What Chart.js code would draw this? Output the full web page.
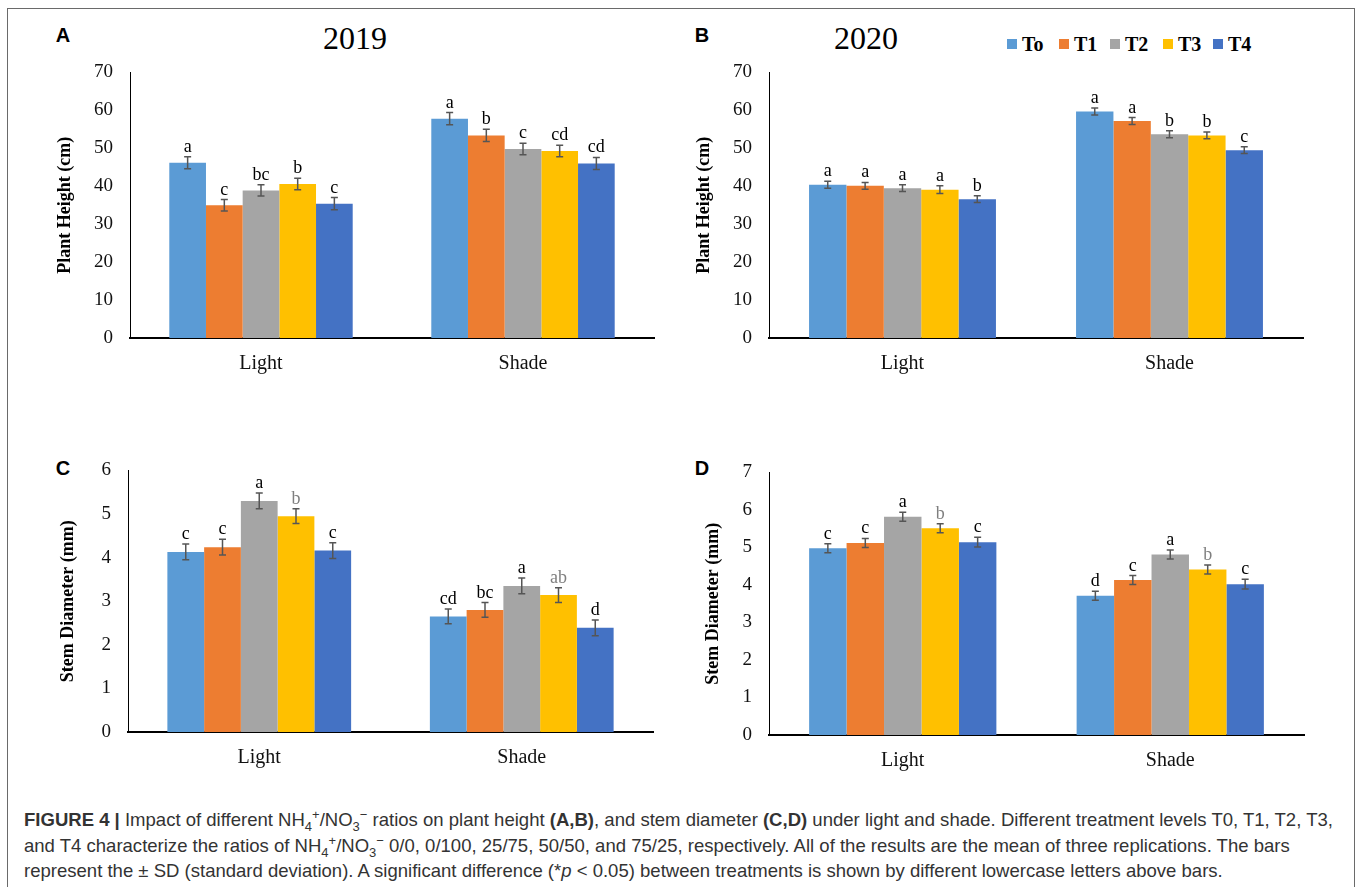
<!DOCTYPE html>
<html>
<head>
<meta charset="utf-8">
<script src="https://cdn.jsdelivr.net/npm/chart.js@4.4.1/dist/chart.umd.min.js"></script>
<style>
    body { margin: 0; background: #fff; width: 1357px; height: 887px; overflow: hidden; position: relative; font-family: 'Liberation Serif', serif; }
    .frame { position: absolute; left: 7px; top: 8px; width: 1348px; height: 900px; border: 1.5px solid #6a6a6a; box-sizing: border-box; }
    canvas { position: absolute; }
    .panel { position: absolute; font-family: 'Liberation Sans', Arial, sans-serif; font-weight: bold; font-size: 20px; transform: translate(-50%, -50%); color: #000; }
    .year { position: absolute; font: 32px 'Liberation Serif', serif; transform: translate(-50%, -50%); color: #000; }
    .legend-item { position: absolute; top: 32px; height: 24px; display: flex; align-items: center; font: bold 20px 'Liberation Serif', serif; color: #000; }
    .legend-item i { display: inline-block; width: 10px; height: 10px; margin-right: 5px; }
    .caption { position: absolute; left: 24px; top: 807px; font-family: 'Liberation Sans', Arial, sans-serif; font-size: 15.5px; line-height: 25.5px; color: #333; }
    .caption span.line { display: block; white-space: nowrap; }
    .caption sub, .caption sup { font-size: 0.7em; line-height: 0; }
</style>
</head>
<body>
<div class="frame"></div>

<div class="panel" style="left:63px;top:35px">A</div>
<div class="panel" style="left:702px;top:35px">B</div>
<div class="panel" style="left:63px;top:468px">C</div>
<div class="panel" style="left:702px;top:468px">D</div>

<div class="year" style="left:355px;top:38px">2019</div>
<div class="year" style="left:866px;top:38px">2020</div>

<div id="legend"></div>

<canvas id="chartA" width="609" height="339" style="left:55px;top:44px"></canvas>
<canvas id="chartB" width="619" height="339" style="left:694px;top:44px"></canvas>
<canvas id="chartC" width="605" height="335" style="left:58px;top:442px"></canvas>
<canvas id="chartD" width="611" height="336" style="left:703px;top:444px"></canvas>

<div class="caption" id="caption">
    <span class="line"><b>FIGURE 4 |</b> Impact of different NH<sub>4</sub><sup>+</sup>/NO<sub>3</sub><sup>−</sup> ratios on plant height <b>(A,B)</b>, and stem diameter <b>(C,D)</b> under light and shade. Different treatment levels T0, T1, T2, T3,</span>
    <span class="line">and T4 characterize the ratios of NH<sub>4</sub><sup>+</sup>/NO<sub>3</sub><sup>−</sup> 0/0, 0/100, 25/75, 50/50, and 75/25, respectively. All of the results are the mean of three replications. The bars</span>
    <span class="line">represent the ± SD (standard deviation). A significant difference (*<i>p</i> &lt; 0.05) between treatments is shown by different lowercase letters above bars.</span>
</div>

<script>
// categorias e tratamentos
const categories = ['Light', 'Shade'];
const treatments = ['To', 'T1', 'T2', 'T3', 'T4'];
const colors = ['#5B9BD5', '#ED7D31', '#A5A5A5', '#FFC000', '#4472C4'];

// A - altura 2019 (cm), um valor por tratamento
const heightLight2019 = [46.2, 35.0, 38.9, 40.6, 35.4];
const heightShade2019 = [57.8, 53.4, 49.8, 49.3, 46.0];
const heightLightErr2019 = [1.6, 1.5, 1.5, 1.5, 1.6];
const heightShadeErr2019 = [1.6, 1.6, 1.5, 1.5, 1.6];
const heightLightLetters2019 = ['a', 'c', 'bc', 'b', 'c'];
const heightShadeLetters2019 = ['a', 'b', 'c', 'cd', 'cd'];

// B - altura 2020 (cm)
const heightLight2020 = [40.4, 40.1, 39.5, 39.1, 36.6];
const heightShade2020 = [59.7, 57.2, 53.7, 53.4, 49.5];
const heightLightErr2020 = [0.9, 0.9, 0.9, 1.0, 0.9];
const heightShadeErr2020 = [0.9, 0.9, 0.9, 0.9, 0.9];
const heightLightLetters2020 = ['a', 'a', 'a', 'a', 'b'];
const heightShadeLetters2020 = ['a', 'a', 'b', 'b', 'c'];

// C - diametro 2019 (mm)
const stemLight2019 = [4.13, 4.24, 5.30, 4.95, 4.16];
const stemShade2019 = [2.65, 2.80, 3.35, 3.14, 2.39];
const stemLightErr2019 = [0.18, 0.18, 0.18, 0.17, 0.18];
const stemShadeErr2019 = [0.17, 0.17, 0.18, 0.17, 0.18];
const stemLightLetters2019 = ['c', 'c', 'a', 'b', 'c'];
const stemShadeLetters2019 = ['cd', 'bc', 'a', 'ab', 'd'];

// D - diametro 2020 (mm)
const stemLight2020 = [4.98, 5.12, 5.82, 5.51, 5.14];
const stemShade2020 = [3.71, 4.13, 4.81, 4.41, 4.02];
const stemLightErr2020 = [0.12, 0.12, 0.12, 0.12, 0.13];
const stemShadeErr2020 = [0.12, 0.12, 0.12, 0.12, 0.13];
const stemLightLetters2020 = ['c', 'c', 'a', 'b', 'c'];
const stemShadeLetters2020 = ['d', 'c', 'a', 'b', 'c'];

// letras em cinza no original (so o T3 nos paineis C e D)
const grayLettersC = [false, false, false, true, false];
const grayLettersD = [false, false, false, true, false];
const noGray = [false, false, false, false, false];

// barras de erro + letras de significancia
const errorBarsPlugin = {
    id: 'errorBars',
    afterDatasetsDraw(chart) {
        const ctx = chart.ctx;
        const yScale = chart.scales.y;
        ctx.save();
        chart.data.datasets.forEach((ds, i) => {
            const meta = chart.getDatasetMeta(i);
            meta.data.forEach((bar, j) => {
                const v = ds.data[j];
                const e = ds.errors[j];
                const x = bar.x;
                const top = yScale.getPixelForValue(v + e);
                const bottom = yScale.getPixelForValue(v - e);
                ctx.strokeStyle = '#555';
                ctx.lineWidth = 1.5;
                ctx.beginPath();
                ctx.moveTo(x, top); ctx.lineTo(x, bottom);
                ctx.moveTo(x - 3.5, top); ctx.lineTo(x + 3.5, top);
                ctx.moveTo(x - 3.5, bottom); ctx.lineTo(x + 3.5, bottom);
                ctx.stroke();

                ctx.fillStyle = ds.grayLetters[j] ? '#7f7f7f' : '#000';
                ctx.font = "18px 'Liberation Serif'";
                ctx.textAlign = 'center';
                ctx.textBaseline = 'alphabetic';
                ctx.fillText(ds.letters[j], x, top - 5);
            });
        });
        ctx.restore();
    }
};

function makeChart(id, light, shade, errLight, errShade, lettersLight, lettersShade, grayLight, grayShade, yMax, yTitle, yWidth) {
    const datasets = treatments.map((t, i) => ({
        label: t,
        data: [light[i], shade[i]],
        errors: [errLight[i], errShade[i]],
        letters: [lettersLight[i], lettersShade[i]],
        grayLetters: [grayLight[i], grayShade[i]],
        backgroundColor: colors[i],
        borderWidth: 0,
        categoryPercentage: 0.7,
        barPercentage: 1.0
    }));

    return new Chart(document.getElementById(id), {
        type: 'bar',
        data: { labels: categories, datasets: datasets },
        plugins: [errorBarsPlugin],
        options: {
            responsive: false,
            animation: false,
            layout: { padding: { top: 0, right: 10, left: 0, bottom: 0 } },
            plugins: { legend: { display: false }, tooltip: { enabled: false } },
            scales: {
                x: {
                    grid: { display: false, drawTicks: false },
                    border: { display: true, color: '#000', width: 2 },
                    ticks: { color: '#111', font: { family: 'Liberation Serif', size: 20 }, padding: 14 },
                    afterFit(scale) { scale.height = 45; }
                },
                y: {
                    min: 0,
                    max: yMax,
                    grid: { display: false, drawTicks: false },
                    border: { display: true, color: '#000', width: 1 },
                    ticks: { stepSize: yMax > 10 ? 10 : 1, color: '#111', font: { family: 'Liberation Serif', size: 19 }, padding: 17 },
                    title: {
                        display: true,
                        text: yTitle,
                        color: '#000',
                        font: { family: 'Liberation Serif', size: 18, weight: 'bold' },
                        padding: { top: 0, bottom: 0 }
                    },
                    afterFit(scale) { scale.width = yWidth; }
                }
            }
        }
    });
}

makeChart('chartA', heightLight2019, heightShade2019, heightLightErr2019, heightShadeErr2019,
    heightLightLetters2019, heightShadeLetters2019, noGray, noGray, 70, 'Plant Height (cm)', 75);
makeChart('chartB', heightLight2020, heightShade2020, heightLightErr2020, heightShadeErr2020,
    heightLightLetters2020, heightShadeLetters2020, noGray, noGray, 70, 'Plant Height (cm)', 75);
makeChart('chartC', stemLight2019, stemShade2019, stemLightErr2019, stemShadeErr2019,
    stemLightLetters2019, stemShadeLetters2019, grayLettersC, grayLettersC, 6, 'Stem Diameter (mm)', 70);
makeChart('chartD', stemLight2020, stemShade2020, stemLightErr2020, stemShadeErr2020,
    stemLightLetters2020, stemShadeLetters2020, grayLettersD, grayLettersD, 7, 'Stem Diameter (mm)', 66);

// legenda (painel B)
const legendLeft = [1007, 1059, 1110, 1163, 1213];
const legend = document.getElementById('legend');
treatments.forEach((t, i) => {
    const item = document.createElement('div');
    item.className = 'legend-item';
    item.style.left = legendLeft[i] + 'px';
    item.innerHTML = '<i style="background:' + colors[i] + '"></i>' + t;
    legend.appendChild(item);
});

// ajusta o tamanho da legenda para a primeira linha ocupar a largura do original
const caption = document.getElementById('caption');
const firstLine = caption.querySelector('.line');
const w = firstLine.getBoundingClientRect().width;
caption.style.fontSize = (15.5 * 1310 / w).toFixed(2) + 'px';
</script>
</body>
</html>
